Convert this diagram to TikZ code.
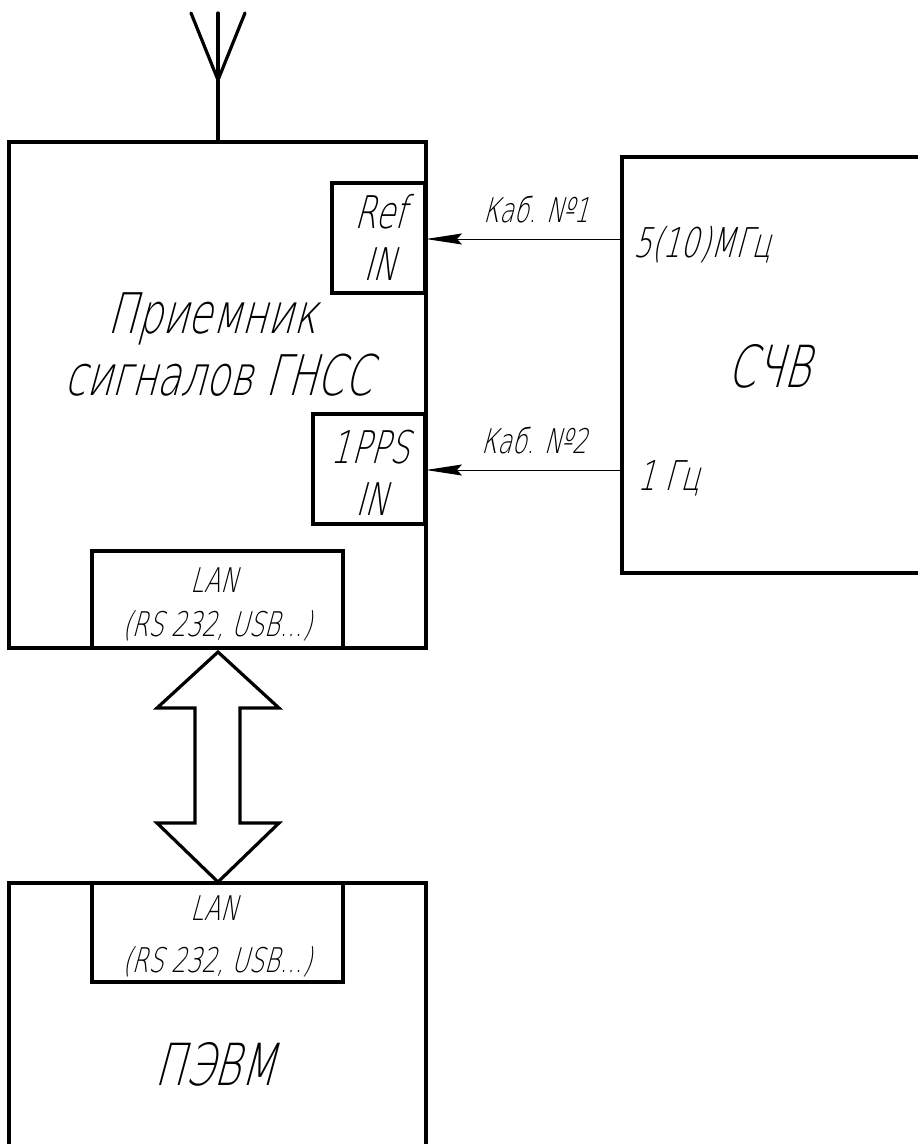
\documentclass[tikz,border=0pt]{standalone}
\usepackage{fontspec}
\IfFontExistsTF{DejaVu Sans ExtraLight}
  {\setmainfont{DejaVu Sans ExtraLight}[FakeSlant=0.27,FakeStretch=0.7]}
  {\setmainfont{DejaVu Sans}[FakeSlant=0.27,FakeStretch=0.7]}
\usetikzlibrary{arrows.meta}
\begin{document}
\begin{tikzpicture}[x=1pt,y=-1pt,
  blk/.style={draw, line width=3.2pt, inner sep=0pt, outer sep=0pt, anchor=north west},
  ln/.style={line width=3.2pt, line cap=round},
  sig/.style={line width=1pt, -{Stealth[length=36pt,width=11pt,inset=5pt]}},
  lbl/.style={inner sep=0pt, anchor=base},
  big/.style={lbl, font=\fontsize{56}{60}\selectfont},
  mid/.style={lbl, font=\fontsize{45}{50}\selectfont},
  sml/.style={lbl, font=\fontsize{34}{40}\selectfont},
  frq/.style={lbl, anchor=base west, font=\fontsize{41}{45}\selectfont},
]
\useasboundingbox (0,0) rectangle (918,1144);
\begin{scope}
\clip (-5,-5) rectangle (918,1144);
% blocks
\node[blk, minimum width=417pt, minimum height=506pt] (rx) at (9,142) {};
\node[blk, minimum width=330pt, minimum height=416pt] (sch) at (622,157) {};
\node[blk, minimum width=417pt, minimum height=320pt] (pc) at (9,883) {};
\node[blk, minimum width=93pt, minimum height=110pt] (ref) at (332,183) {};
\node[blk, minimum width=112pt, minimum height=110pt] (pps) at (313,414) {};
\node[blk, minimum width=251pt, minimum height=97pt] (lan1) at (92,551) {};
\node[blk, minimum width=251pt, minimum height=99pt] (lan2) at (92,883) {};
\end{scope}
% antenna
\coordinate (ant) at (218,80);
\coordinate (antl) at (191,13);
\coordinate (antm) at (218,13);
\coordinate (antr) at (245,13);
\draw[ln] (rx.north -| ant) -- (ant) -- (antm);
\draw[ln, line join=round] (antl) -- (ant) -- (antr);
% texts
\node[big] (t1) at (212,333) {Приемник};
\node[big] (t2) at (218,395) {сигналов ГНСС};
\node[mid] (t3) at (380,228) {Ref};
\node[mid] (t4) at (380,280) {IN};
\node[mid] (t5) at (370,463) {1PPS};
\node[mid] (t6) at (372,515) {IN};
\node[sml] (t7) at (214,592) {LAN};
\node[sml] (t8) at (217,636) {(RS 232, USB...)};
\node[sml] (t9) at (214,920) {LAN};
\node[sml] (t10) at (217,972) {(RS 232, USB...)};
\node[big, font=\fontsize{58}{62}\selectfont] (t11) at (215,1085) {ПЭВМ};
\node[big, font=\fontsize{58}{62}\selectfont] (t12) at (769,387) {СЧВ};
\node[frq] (t13) at (633,257) {5(10)МГц};
\node[frq] (t14) at (637,490) {1 Гц};
\node[sml] (t15) at (536,222) {Каб. №1};
\node[sml] (t16) at (534,453) {Каб. №2};
% signal arrows
\coordinate (o1) at (622,239);
\coordinate (o2) at (622,470);
\draw[sig] (o1) -- (o1 -| rx.east);
\draw[sig] (o2) -- (o2 -| rx.east);
% double arrow
\draw[line width=3.2pt] (218,652) -- (279,708) -- (240,708) -- (240,823) -- (279,823)
  -- (218,882) -- (157,823) -- (195,823) -- (195,708) -- (157,708) -- cycle;
\end{tikzpicture}
\end{document}
